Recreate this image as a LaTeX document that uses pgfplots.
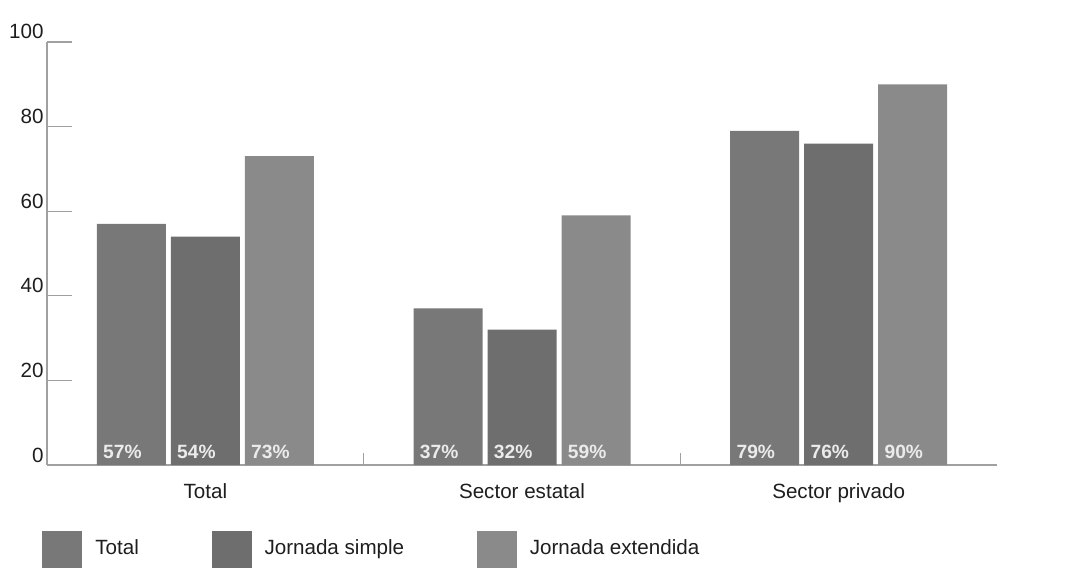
\documentclass[border=0pt]{standalone}
\usepackage{pgfplots}
\pgfplotsset{compat=1.18}
\usepackage{pgfplotstable}
\usepackage{fontspec}
\setmainfont{Liberation Sans}

\definecolor{cTotal}{HTML}{787878}
\definecolor{cSimple}{HTML}{6E6E6E}
\definecolor{cExt}{HTML}{8A8A8A}
\definecolor{axgray}{HTML}{A0A0A0}
\definecolor{txt}{HTML}{1E1E1E}

% categories at 0,1,2: Total, Sector estatal, Sector privado
\pgfplotstableread{
cat total simple ext
0   57    54     73
1   37    32     59
2   79    76     90
}\datatable

\begin{document}
\begin{tikzpicture}
  \useasboundingbox (-23.5pt,-56.5pt) rectangle (513.5pt,232.5pt);
  \begin{axis}[
      scale only axis,
      width=475pt, height=211.5pt,
      ybar=2.5pt, bar width=34.5pt,
      xmin=-0.5, xmax=2.5,
      ymin=0, ymax=100,
      enlargelimits=false,
      clip=false,
      axis x line*=bottom,
      axis y line*=left,
      axis line style={axgray, line width=0.6pt},
      tick style={axgray, line width=0.6pt},
      tick align=inside,
      major tick length=12.5pt,
      minor tick length=6pt,
      xtick={0,1,2},
      xticklabels={Total, Sector estatal, Sector privado},
      minor xtick={0.5,1.5},
      x tick style={draw=none},
      minor x tick style={draw=axgray, line width=0.6pt},
      ytick={0,20,...,100},
      /pgf/number format/assume math mode=true,
      ticklabel style={font=\fontsize{10.3}{12}\selectfont, text=txt},
      yticklabel style={anchor=base east, inner sep=0pt, xshift=-1.5pt, yshift=1.5pt},
      xticklabel style={anchor=north, inner sep=0pt, yshift=-9pt},
      visualization depends on={y \as \rawy},
      nodes near coords={\pgfmathprintnumber{\pgfplotspointmeta}\%},
      every node near coord/.append style={
          shift={(axis direction cs:0,-\rawy)},
          anchor=base west, inner sep=0pt,
          xshift=-14.25pt, yshift=3.5pt,
          text=white!92!black,
          font=\fontsize{9.6}{12}\selectfont\bfseries},
      sq/.style={legend image code/.code={
          \fill[##1] (0pt,-9.25pt) rectangle (20pt,9.25pt);}},
      legend style={
          at={(0,0)}, anchor=west,
          xshift=-2.5pt, yshift=-42pt,
          draw=none, fill=none, inner sep=0pt,
          legend columns=-1,
          nodes={inner sep=0pt, font=\fontsize{10.3}{12}\selectfont, text=txt},
          /tikz/every odd column/.append style={column sep=6.5pt},
          /tikz/every even column/.append style={column sep=36.3pt}
      },
    ]
    \addplot[fill=cTotal, draw=none, sq] table[x=cat, y=total] {\datatable};
    \addplot[fill=cSimple, draw=none, sq] table[x=cat, y=simple] {\datatable};
    \addplot[fill=cExt, draw=none, sq] table[x=cat, y=ext] {\datatable};
    \legend{Total, Jornada simple, Jornada extendida}
  \end{axis}
\end{tikzpicture}
\end{document}
